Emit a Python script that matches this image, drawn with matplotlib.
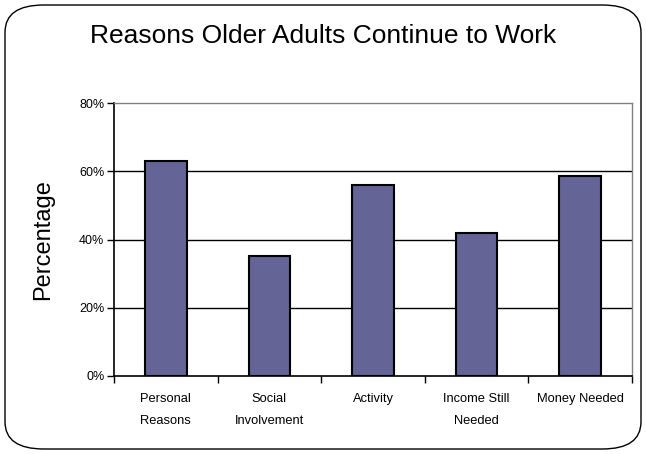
import matplotlib.pyplot as plt
import numpy as np
from matplotlib.patches import FancyBboxPatch
from matplotlib.ticker import FuncFormatter

plt.rcParams['font.family'] = ['Liberation Sans', 'DejaVu Sans']

# 数据
categories = ['Personal\nReasons', 'Social\nInvolvement', 'Activity',
              'Income Still\nNeeded', 'Money Needed']
percent = [63, 35.3, 56, 41.8, 58.7]
y_ticks = [0, 20, 40, 60, 80]

fig = plt.figure(figsize=(6.46, 4.54), dpi=100)

# 外框圆角矩形
frame = FancyBboxPatch((5 / 646, 5 / 454), 636 / 646, 444 / 454,
                       boxstyle='round,pad=0,rounding_size=0.06',
                       transform=fig.transFigure, facecolor='none',
                       edgecolor='black', linewidth=1.0, zorder=-1)
fig.patches.append(frame)

ax = fig.add_axes([114 / 646, (454 - 376) / 454, (632 - 114) / 646, (376 - 103) / 454])
ax.set_facecolor('none')

x = np.arange(len(categories))
ax.bar(x, percent, width=0.4, color='#646496', edgecolor='black', linewidth=1.5, zorder=3)

ax.set_xlim(-0.5, len(categories) - 0.5)
ax.set_ylim(0, 80)

# 网格线
for v in y_ticks[1:-1]:
    ax.axhline(v, color='black', linewidth=1.0, zorder=1)

ax.set_yticks(y_ticks)
ax.yaxis.set_major_formatter(FuncFormatter(lambda v, p: '%d%%' % v))
ax.tick_params(axis='y', direction='out', length=5, width=1, labelsize=9, pad=2)

# 类别标签居中，刻度线位于类别之间
ax.set_xticks(x)
ax.set_xticklabels(categories, fontsize=9.3, linespacing=2.2)
ax.set_xticks(np.arange(len(categories) + 1) - 0.5, minor=True)
ax.tick_params(axis='x', which='major', length=0, pad=12)
ax.tick_params(axis='x', which='minor', direction='out', length=5, width=1)

for side in ['top', 'right']:
    ax.spines[side].set_color('#808080')
    ax.spines[side].set_linewidth(1.0)
for side in ['left', 'bottom']:
    ax.spines[side].set_color('black')
    ax.spines[side].set_linewidth(1.2)

ax.set_ylabel('Percentage', fontsize=17, labelpad=18)
fig.text(323 / 646, 1 - 36 / 454, 'Reasons Older Adults Continue to Work',
         ha='center', va='center', fontsize=19)

fig.savefig('out.png', dpi=100)
